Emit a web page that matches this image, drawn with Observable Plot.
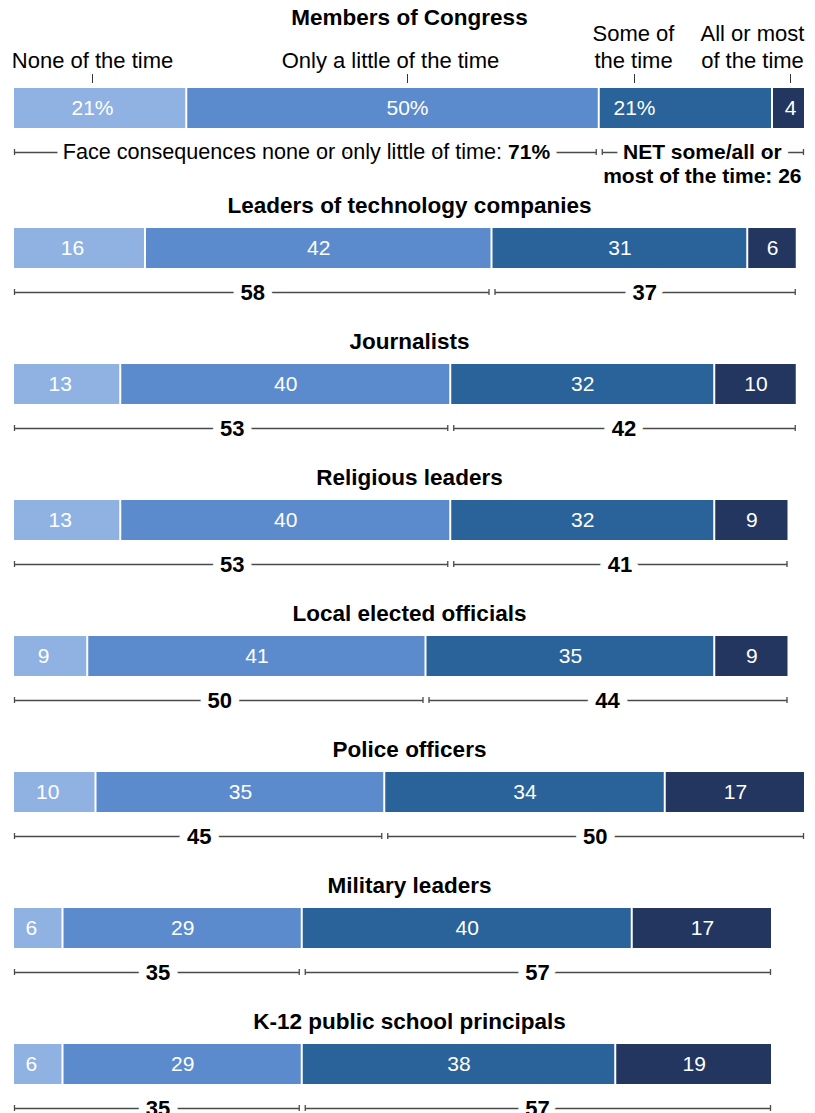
<!DOCTYPE html>
<html><head><meta charset="utf-8">
<script src="https://cdn.jsdelivr.net/npm/d3@7"></script>
<script src="https://cdn.jsdelivr.net/npm/@observablehq/plot@0.6"></script>
<style>
html,body{margin:0;padding:0;background:#fff;width:815px;height:1113px;overflow:hidden;}
#chart svg{display:block}
</style></head><body><div id="chart"></div>
<script>
// ---------- data ----------
const groups = ["Members of Congress","Leaders of technology companies","Journalists","Religious leaders","Local elected officials","Police officers","Military leaders","K-12 public school principals"];
const categories = ["None of the time","Only a little of the time","Some of the time","All or most of the time"];
const noneOfTheTime = [21,16,13,13,9,10,6,6];
const onlyALittle   = [50,42,40,40,41,35,29,29];
const someOfTheTime = [21,31,32,32,35,34,40,38];
const allOrMost     = [4,6,10,9,9,17,17,19];
const netNoneOrLittle = [71,58,53,53,50,45,35,35];
const netSomeOrMore   = [26,37,42,41,44,50,57,57];
const headerLabels = ["None of the time","Only a little of the time","Some of\nthe time","All or most\nof the time"];
const leftNetText = "Face consequences none or only little of time: ";
const rightNetLines = ["NET some/all or","most of the time: "];

// ---------- style / layout ----------
const colors = ["#8FB2E2","#5B8BCD","#2A6399","#23365F"];
const FONT = "'Liberation Sans', Arial, sans-serif";
const W = 815, ML = 13, MR = 10;
const xMax = d3.max(groups, (g, i) => noneOfTheTime[i] + onlyALittle[i] + someOfTheTime[i] + allOrMost[i]);
const k = (W - ML - MR) / xMax;        // px per unit
const u = p => p / k;                  // px -> data units
// annotation anchors for the header of the first panel (data units)
const headerTickAt  = [u(79), u(394), u(621), u(777)];
const headerLabelAt = [u(79), u(377), u(620), u(739)];

const ctx = document.createElement("canvas").getContext("2d");
function tw(s, size, weight) { ctx.font = `${weight} ${size}px ${FONT}`; return ctx.measureText(s).width; }

const chart = document.getElementById("chart");

groups.forEach((g, i) => {
  const first = i === 0;
  const vals = [noneOfTheTime[i], onlyALittle[i], someOfTheTime[i], allOrMost[i]];
  let acc = 0;
  const segs = vals.map((v, j) => { const s = {j, cat: categories[j], v, x1: acc, x2: acc + v}; acc += v; return s; });
  const total = acc;
  const split = segs[1].x2;
  const fmt = (d) => first && d.j < 3 ? d.v + "%" : String(d.v);
  const labelX = (d) => first ? headerTickAt[d.j] : (d.x1 + d.x2) / 2;

  const brackets = [
    {a: u(1), b: split - u(3), mid: split / 2, text: String(netNoneOrLittle[i])},
    {a: split + u(3), b: total - u(2), mid: (split + total) / 2, text: String(netSomeOrMore[i])}
  ];
  const ends = brackets.flatMap(b => [b.a, b.b]);

  const mTop = first ? 88 : 40;
  const mBot = first ? 60 : 56;
  const H = mTop + 40 + mBot;

  const lineStyle = {stroke: "#4a4a4a", strokeWidth: 1.3};
  const marks = [
    Plot.barX(segs, {x1: "x1", x2: "x2", fill: "cat", insetLeft: 1, insetRight: 1}),
    Plot.text(segs.filter(d => d.j === 0), {x: labelX, y: () => 0.5, text: fmt, fill: "white", fontSize: 21, dx: first ? 0 : -7}),
    Plot.text(segs.filter(d => d.j > 0), {x: labelX, y: () => 0.5, text: fmt, fill: "white", fontSize: 21}),
    Plot.text([g], {frameAnchor: "top", dy: first ? -79 : -31, text: d => d, fontWeight: "bold", fontSize: 22.5, fill: "#000"}),
    Plot.link(brackets, {x1: "a", x2: "b", y1: () => 1, y2: () => 1, dy: 24, ...lineStyle}),
    Plot.ruleX(ends, {x: d => d, dy: 61, insetBottom: 34, ...lineStyle})
  ];

  if (!first) {
    marks.push(Plot.text(brackets, {x: "mid", y: () => 1, dy: 24, text: "text", fontWeight: "bold", fontSize: 22,
      fill: "#000", stroke: "white", strokeWidth: 16, paintOrder: "stroke"}));
  } else {
    // header labels + ticks
    const bottomLines = headerLabels.map((s, j) => ({x: headerLabelAt[j], t: s.split("\n").slice(-1)[0]}));
    const topLines = headerLabels.filter(s => s.includes("\n")).map(s => ({x: headerLabelAt[headerLabels.indexOf(s)], t: s.split("\n")[0]}));
    marks.push(Plot.text(bottomLines, {x: "x", y: () => 0, dy: -28, text: "t", fontSize: 22, fill: "#000"}));
    marks.push(Plot.text(topLines, {x: "x", y: () => 0, dy: -55, text: "t", fontSize: 22, fill: "#000"}));
    marks.push(Plot.ruleX(headerTickAt, {x: d => d, dy: -14, insetBottom: 31, stroke: "#333", strokeWidth: 1}));
    // left NET label, mixed weight
    const boldL = netNoneOrLittle[i] + "%";
    const wr = tw(leftNetText, 21.6, "normal"), wb = tw(boldL, 21, "bold");
    const off = wr / 2 - wb / 2;
    const halo = {stroke: "white", strokeWidth: 14, paintOrder: "stroke", fill: "#000"};
    marks.push(Plot.text([leftNetText], {x: () => brackets[0].mid, y: () => 1, dy: 24, dx: off, text: d => d, textAnchor: "end", fontSize: 21.6, ...halo}));
    marks.push(Plot.text([boldL], {x: () => brackets[0].mid, y: () => 1, dy: 24, dx: off, text: d => d, textAnchor: "start", fontSize: 21, fontWeight: "bold", ...halo}));
    // right NET label, two lines
    marks.push(Plot.text([rightNetLines[0]], {x: () => brackets[1].mid, y: () => 1, dy: 24, text: d => d, fontSize: 21, fontWeight: "bold", ...halo}));
    marks.push(Plot.text([rightNetLines[1] + netSomeOrMore[i]], {x: () => brackets[1].mid, y: () => 1, dy: 48, text: d => d, fontSize: 21, fontWeight: "bold", fill: "#000"}));
  }

  const svg = Plot.plot({
    width: W, height: H,
    marginTop: mTop, marginBottom: mBot, marginLeft: ML, marginRight: MR,
    x: {domain: [0, xMax], axis: null},
    y: {domain: [0, 1], reverse: true, axis: null},
    color: {domain: categories, range: colors},
    style: {fontFamily: FONT, fontSize: "20px", color: "#000", background: "white", overflow: "visible"},
    marks
  });
  chart.appendChild(svg);
});
</script></body></html>
